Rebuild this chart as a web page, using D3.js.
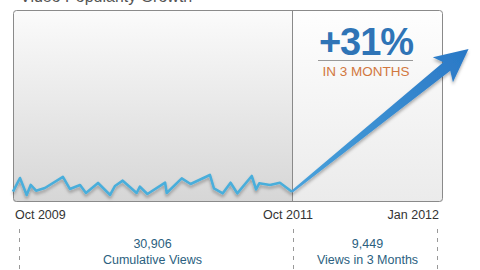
<!DOCTYPE html>
<html>
<head>
<meta charset="utf-8">
<script src="https://cdn.jsdelivr.net/npm/d3@7"></script>
<style>
  html, body { margin: 0; padding: 0; background: #fff; }
  svg { display: block; font-family: "Liberation Sans", Arial, sans-serif; }
</style>
</head>
<body>
<svg class="chart"></svg>
<script>
const width = 480, height = 270;

// weeks since Oct 2009, weekly views
const weeks = [0, 2.6, 5.1, 6.6, 8.6, 11.9, 18.6, 21.2, 25, 27.2, 31.7, 36.2, 38, 40.9, 46.1, 47.3,
  50.1, 56.7, 57.3, 62.9, 66.2, 73.4, 74.9, 78.2, 81.1, 83.6, 89, 90.6, 91.8, 95.8, 99.5, 104];
const views = [191, 444, 130, 315, 209, 259, 463, 241, 315, 167, 352, 130, 296, 394, 167, 283,
  148, 357, 167, 438, 333, 500, 253, 161, 357, 161, 481, 235, 346, 315, 357, 191];

// growth trend after Oct 2011
const trendWeeks = [104, 119.2];
const trendViews = [191, 2830];

const tickWeeks = [0, 104, 117];
const tickLabels = ["Oct 2009", "Oct 2011", "Jan 2012"];

const title = "Video Popularity Growth";
const growthLabel = "+31%";
const growthSub = "IN 3 MONTHS";
const totals = [30906, 9449];
const totalLabels = ["Cumulative Views", "Views in 3 Months"];
const totalMid = [52, 110.5];

const x = d3.scaleLinear().domain(tickWeeks).range([13, 292, 443]);
const y = d3.scaleLinear().domain([0, 3000]).range([202, 39.8]);

const svg = d3.select(".chart").attr("width", width).attr("height", height);
const defs = svg.append("defs");

const gl = defs.append("linearGradient").attr("id", "gl").attr("x1", 0).attr("x2", 0).attr("y1", 0).attr("y2", 1);
gl.append("stop").attr("offset", "0%").attr("stop-color", "#fbfbfb");
gl.append("stop").attr("offset", "100%").attr("stop-color", "#d6d6d6");
const gr = defs.append("linearGradient").attr("id", "gr").attr("x1", 0).attr("x2", 0).attr("y1", 0).attr("y2", 1);
gr.append("stop").attr("offset", "0%").attr("stop-color", "#fefefe");
gr.append("stop").attr("offset", "100%").attr("stop-color", "#ebebeb");
const ga = defs.append("linearGradient").attr("id", "ga").attr("gradientUnits", "userSpaceOnUse")
  .attr("x1", 292).attr("y1", 192).attr("x2", 468).attr("y2", 49);
ga.append("stop").attr("offset", "0%").attr("stop-color", "#4aa3dc");
ga.append("stop").attr("offset", "100%").attr("stop-color", "#2a78c6");

const shadow = defs.append("filter").attr("id", "sh").attr("x", "-20%").attr("y", "-20%").attr("width", "140%").attr("height", "160%");
shadow.append("feDropShadow").attr("dx", 0).attr("dy", 2.5).attr("stdDeviation", 1.6)
  .attr("flood-color", "#000").attr("flood-opacity", 0.3);

const x0 = x(0), x1 = x(104), x2 = x(117);
const boxTop = 10, boxBottom = 202;

// title (mostly cropped)
svg.append("text").attr("x", 20).attr("y", 2).attr("font-size", 16).attr("fill", "#555").text(title);

// panels
const clip = defs.append("clipPath").attr("id", "box");
clip.append("rect").attr("x", x0).attr("y", boxTop).attr("width", x2 - x0).attr("height", boxBottom - boxTop).attr("rx", 3);
const bg = svg.append("g").attr("clip-path", "url(#box)");
bg.append("rect").attr("x", x0).attr("y", boxTop).attr("width", x1 - x0).attr("height", boxBottom - boxTop).attr("fill", "url(#gl)");
bg.append("rect").attr("x", x1).attr("y", boxTop).attr("width", x2 - x1).attr("height", boxBottom - boxTop).attr("fill", "url(#gr)");
svg.append("rect").attr("x", x0 + 0.5).attr("y", boxTop + 0.5).attr("width", x2 - x0 - 1).attr("height", boxBottom - boxTop - 1)
  .attr("rx", 3).attr("fill", "none").attr("stroke", "#8a8a8a");
svg.append("line").attr("x1", x1 + 0.5).attr("x2", x1 + 0.5).attr("y1", boxTop).attr("y2", boxBottom).attr("stroke", "#8a8a8a");

// growth label
svg.append("text").attr("x", 366).attr("y", 55).attr("text-anchor", "middle")
  .attr("font-size", 38).attr("font-weight", "bold").attr("fill", "#2f74b6").attr("letter-spacing", -1).text(growthLabel);
svg.append("line").attr("x1", 318).attr("x2", 413).attr("y1", 60.5).attr("y2", 60.5).attr("stroke", "#999");
svg.append("text").attr("x", 366).attr("y", 75.5).attr("text-anchor", "middle")
  .attr("font-size", 13.5).attr("fill", "#d2773f").text(growthSub);

// history line
const line = d3.line().x((d, i) => x(weeks[i])).y(d => y(d));
svg.append("path").datum(views).attr("d", line)
  .attr("fill", "none").attr("stroke", "#4aaedb").attr("stroke-width", 2.6)
  .attr("stroke-linejoin", "round").attr("filter", "url(#sh)");

// growth arrow
const sx = x(trendWeeks[0]), sy = y(trendViews[0]);
const ex = x(trendWeeks[1]), ey = y(trendViews[1]);
const len = Math.hypot(ex - sx, ey - sy);
const ux = (ex - sx) / len, uy = (ey - sy) / len;
const nx = -uy, ny = ux;
const headLen = 30, headW = 16, w0 = 1.2, w1 = 5.5;
const bx = ex - ux * headLen, by = ey - uy * headLen;
const nb = 3; // notch back
const pts = [
  [sx + nx * w0, sy + ny * w0],
  [bx + ux * 2 + nx * w1, by + uy * 2 + ny * w1],
  [bx - ux * nb + nx * headW, by - uy * nb + ny * headW],
  [ex, ey],
  [bx - ux * nb - nx * headW, by - uy * nb - ny * headW],
  [bx + ux * 2 - nx * w1, by + uy * 2 - ny * w1],
  [sx - nx * w0, sy - ny * w0]
];
svg.append("path").attr("d", d3.line()(pts) + "Z")
  .attr("fill", "url(#ga)").attr("filter", "url(#sh)");

// axis labels
svg.append("g").selectAll("text").data(tickWeeks).join("text")
  .attr("x", d => x(d))
  .attr("dx", (d, i) => i === 0 ? 2 : -4)
  .attr("y", 219)
  .attr("text-anchor", (d, i) => i === 0 ? "start" : i === 1 ? "middle" : "end")
  .attr("font-size", 12.5).attr("fill", "#333")
  .text((d, i) => tickLabels[i]);

// dashed guides
svg.append("g").selectAll("line").data(tickWeeks).join("line")
  .attr("x1", (d, i) => x(d) + [6, 1, -6][i] + 0.5)
  .attr("x2", (d, i) => x(d) + [6, 1, -6][i] + 0.5)
  .attr("y1", 229).attr("y2", 270)
  .attr("stroke", "#999").attr("stroke-dasharray", "4,5");

// totals
const fmt = d3.format(",");
const tg = svg.append("g").selectAll("g").data(totals).join("g")
  .attr("transform", (d, i) => `translate(${x(totalMid[i])},0)`);
tg.append("text").attr("y", 248).attr("text-anchor", "middle").attr("font-size", 12.5)
  .attr("fill", "#2b5f80").text(d => fmt(d));
tg.append("text").attr("y", 264).attr("text-anchor", "middle").attr("font-size", 12.5)
  .attr("fill", "#2b5f80").text((d, i) => totalLabels[i]);
</script>
</body>
</html>
